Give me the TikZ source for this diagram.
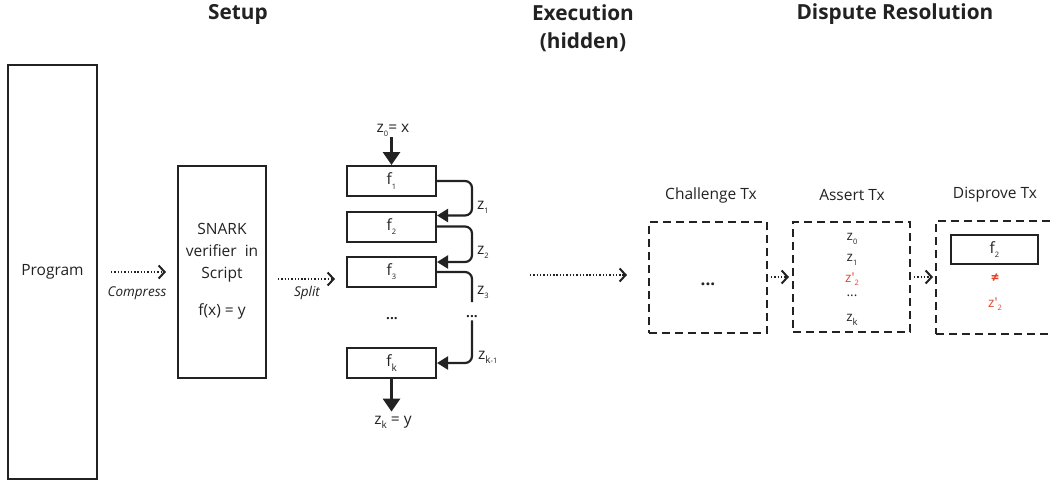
\documentclass[tikz,border=0pt]{standalone}
\usepackage{fontspec}
\setmainfont{Open Sans}
\usetikzlibrary{arrows.meta,calc}
\definecolor{ink}{RGB}{34,34,34}
\definecolor{redz}{RGB}{232,66,40}
\newcommand\lo[1]{\raisebox{-0.5ex}{\fontsize{7.5}{7.5}\selectfont #1}}
\newcommand\zp{z\textquotesingle}
\begin{document}
\begin{tikzpicture}[x=1pt,y=-1pt,
  txt/.style={text=ink,font=\fontsize{15.5}{18}\selectfont,inner sep=0pt},
  head/.style={text=ink,font=\bfseries\fontsize{20.8}{28}\selectfont,inner sep=0pt,align=center},
  lab/.style={text=ink,font=\itshape\fontsize{13.5}{15}\selectfont,inner sep=0pt},
  sbox/.style={draw=ink,line width=2pt,inner sep=0pt},
  dbox/.style={draw=ink,line width=2pt,dash pattern=on 8pt off 5pt,inner sep=0pt},
  dotarrow/.style={draw=ink,line width=1.5pt,dash pattern=on 1.4pt off 1.9pt,
     -{Straight Barb[length=6pt,width=13pt,line width=2pt]}},
  looparrow/.style={draw=ink,line width=2.2pt,rounded corners=7pt,
     -{Triangle[length=11pt,width=13pt]}},
  loopline/.style={draw=ink,line width=2.2pt,rounded corners=7pt},
  downarrow/.style={draw=ink,line width=3pt,-{Triangle[length=13pt,width=17pt]}},
  small/.style={text=ink,font=\fontsize{13.5}{15}\selectfont,inner sep=0pt},
]
\useasboundingbox (0,0) rectangle (1051,485);
\clip (0,0) rectangle (1051,485);

% headers
\node[head] (hsetup) at (238,14) {Setup};
\node[head] (hexec) at (583,28) {Execution\\(hidden)};
\node[head] (hdisp) at (895,14) {Dispute Resolution};

% setup
\node[sbox,minimum width=89pt,minimum height=414pt] (prog) at (52.5,272) {};
\node[txt] (progt) at (prog.center) {Program};
\node[sbox,minimum width=88pt,minimum height=212pt] (snark) at (222,272) {};
\node[txt,align=center,font=\fontsize{15.5}{22}\selectfont] (snarkt) at (222,271) {SNARK\\verifier\ \ in\\Script\\[15pt]f(x) = y};
\draw[dotarrow,shorten <=13pt,shorten >=11pt] (prog.east) -- (snark.west);
\node[lab] (lcomp) at (137,293) {Compress};
\coordinate (splA) at (278,279);
\coordinate (splB) at (335,279);
\draw[dotarrow] (splA) -- (splB);
\node[lab] (lsplit) at (307,293) {Split};

% execution chain
\node[sbox,minimum width=89pt,minimum height=30pt] (f1) at (391.5,181) {};
\node[txt] at (f1.center) {f\lo{1}};
\node[sbox,minimum width=89pt,minimum height=30pt] (f2) at (391.5,226.5) {};
\node[txt] at (f2.center) {f\lo{2}};
\node[sbox,minimum width=89pt,minimum height=30pt] (f3) at (391.5,272) {};
\node[txt] at (f3.center) {f\lo{3}};
\node[small] (dotsl) at (392,319) {\textbf{...}};
\node[sbox,minimum width=89pt,minimum height=30pt] (fk) at (391.5,363) {};
\node[txt] at (fk.center) {f\lo{\fontsize{10}{10}\selectfont k}};

\node[txt] (z0) at (393,130) {z\lo{0}= x};
\draw[downarrow] (z0.south -| f1.north) ++(0,1) -- (f1.north);
\node[txt] (zk) at (393,422) {z\lo{\fontsize{10}{10}\selectfont k} = y};
\draw[downarrow,shorten >=4pt] (fk.south) -- (fk.south |- zk.north);

\coordinate (bus) at (472,0);
\draw[looparrow] (f1.east) -- (f1.east -| bus) -- ($(f2.north -| bus)+(0,5)$) -- ($(f2.north east)+(0,5)$);
\draw[looparrow] (f2.east) -- (f2.east -| bus) -- ($(f3.north -| bus)+(0,6)$) -- ($(f3.north east)+(0,6)$);
\coordinate (b3) at (472,302);
\draw[loopline] (f3.east) -- (f3.east -| bus) -- (b3);
\node[small] (dotsr) at (472,317) {\textbf{...}};
\draw[looparrow] (dotsr.south) ++(0,2) -- (fk.east -| bus) -- (fk.east);

\node[txt,anchor=west] (lz1) at (477,207) {z\lo{1}};
\node[txt,anchor=west] (lz2) at (477,252) {z\lo{2}};
\node[txt,anchor=west] (lz3) at (477,292) {z\lo{3}};
\node[txt,anchor=west] (lzk) at (478,357) {z\lo{\fontsize{10}{10}\selectfont k\fontsize{7.5}{7.5}\selectfont -1}};

% execution arrow
\coordinate (exA) at (530,275);
\coordinate (exB) at (627,275);
\draw[dotarrow] (exA) -- (exB);

% dispute resolution
\node[txt] (chalT) at (711,195) {Challenge Tx};
\node[dbox,minimum width=118pt,minimum height=111pt] (chal) at (708,277.5) {};
\node[txt,font=\bfseries\fontsize{17}{18}\selectfont] (chald) at (708,284) {...};

\node[txt] (assT) at (852,195) {Assert Tx};
\node[dbox,minimum width=117pt,minimum height=110pt] (ass) at (851.5,277) {};
\node[small] (a0) at (852,239) {z\lo{0}};
\node[small] (a1) at (852,260) {z\lo{1}};
\node[small,text=redz] (a2) at (852,279) {\zp\lo{2}};
\node[small] (a3) at (852,296) {...};
\node[small] (a4) at (852,320) {z\lo{\fontsize{9.5}{9.5}\selectfont k}};

\node[txt] (disT) at (995,195) {Disprove Tx};
\node[dbox,minimum width=124pt,minimum height=113pt] (dis) at (998,277.5) {};
\node[sbox,minimum width=87pt,minimum height=29pt] (df2) at (994.5,249.5) {};
\node[txt] at (df2.center) {f\lo{2}};
\node[small,text=redz,font=\bfseries\fontsize{14}{14}\selectfont] (neq) at (995,278) {≠};
\node[small,text=redz] (dz) at (995,304) {\zp\lo{2}};

\draw[dotarrow,shorten <=3pt,shorten >=3pt] (chal.east |- 0,277) -- (ass.west |- 0,277);
\draw[dotarrow,shorten <=3pt,shorten >=2pt] (ass.east |- 0,277) -- (dis.west |- 0,277);
\end{tikzpicture}
\end{document}
